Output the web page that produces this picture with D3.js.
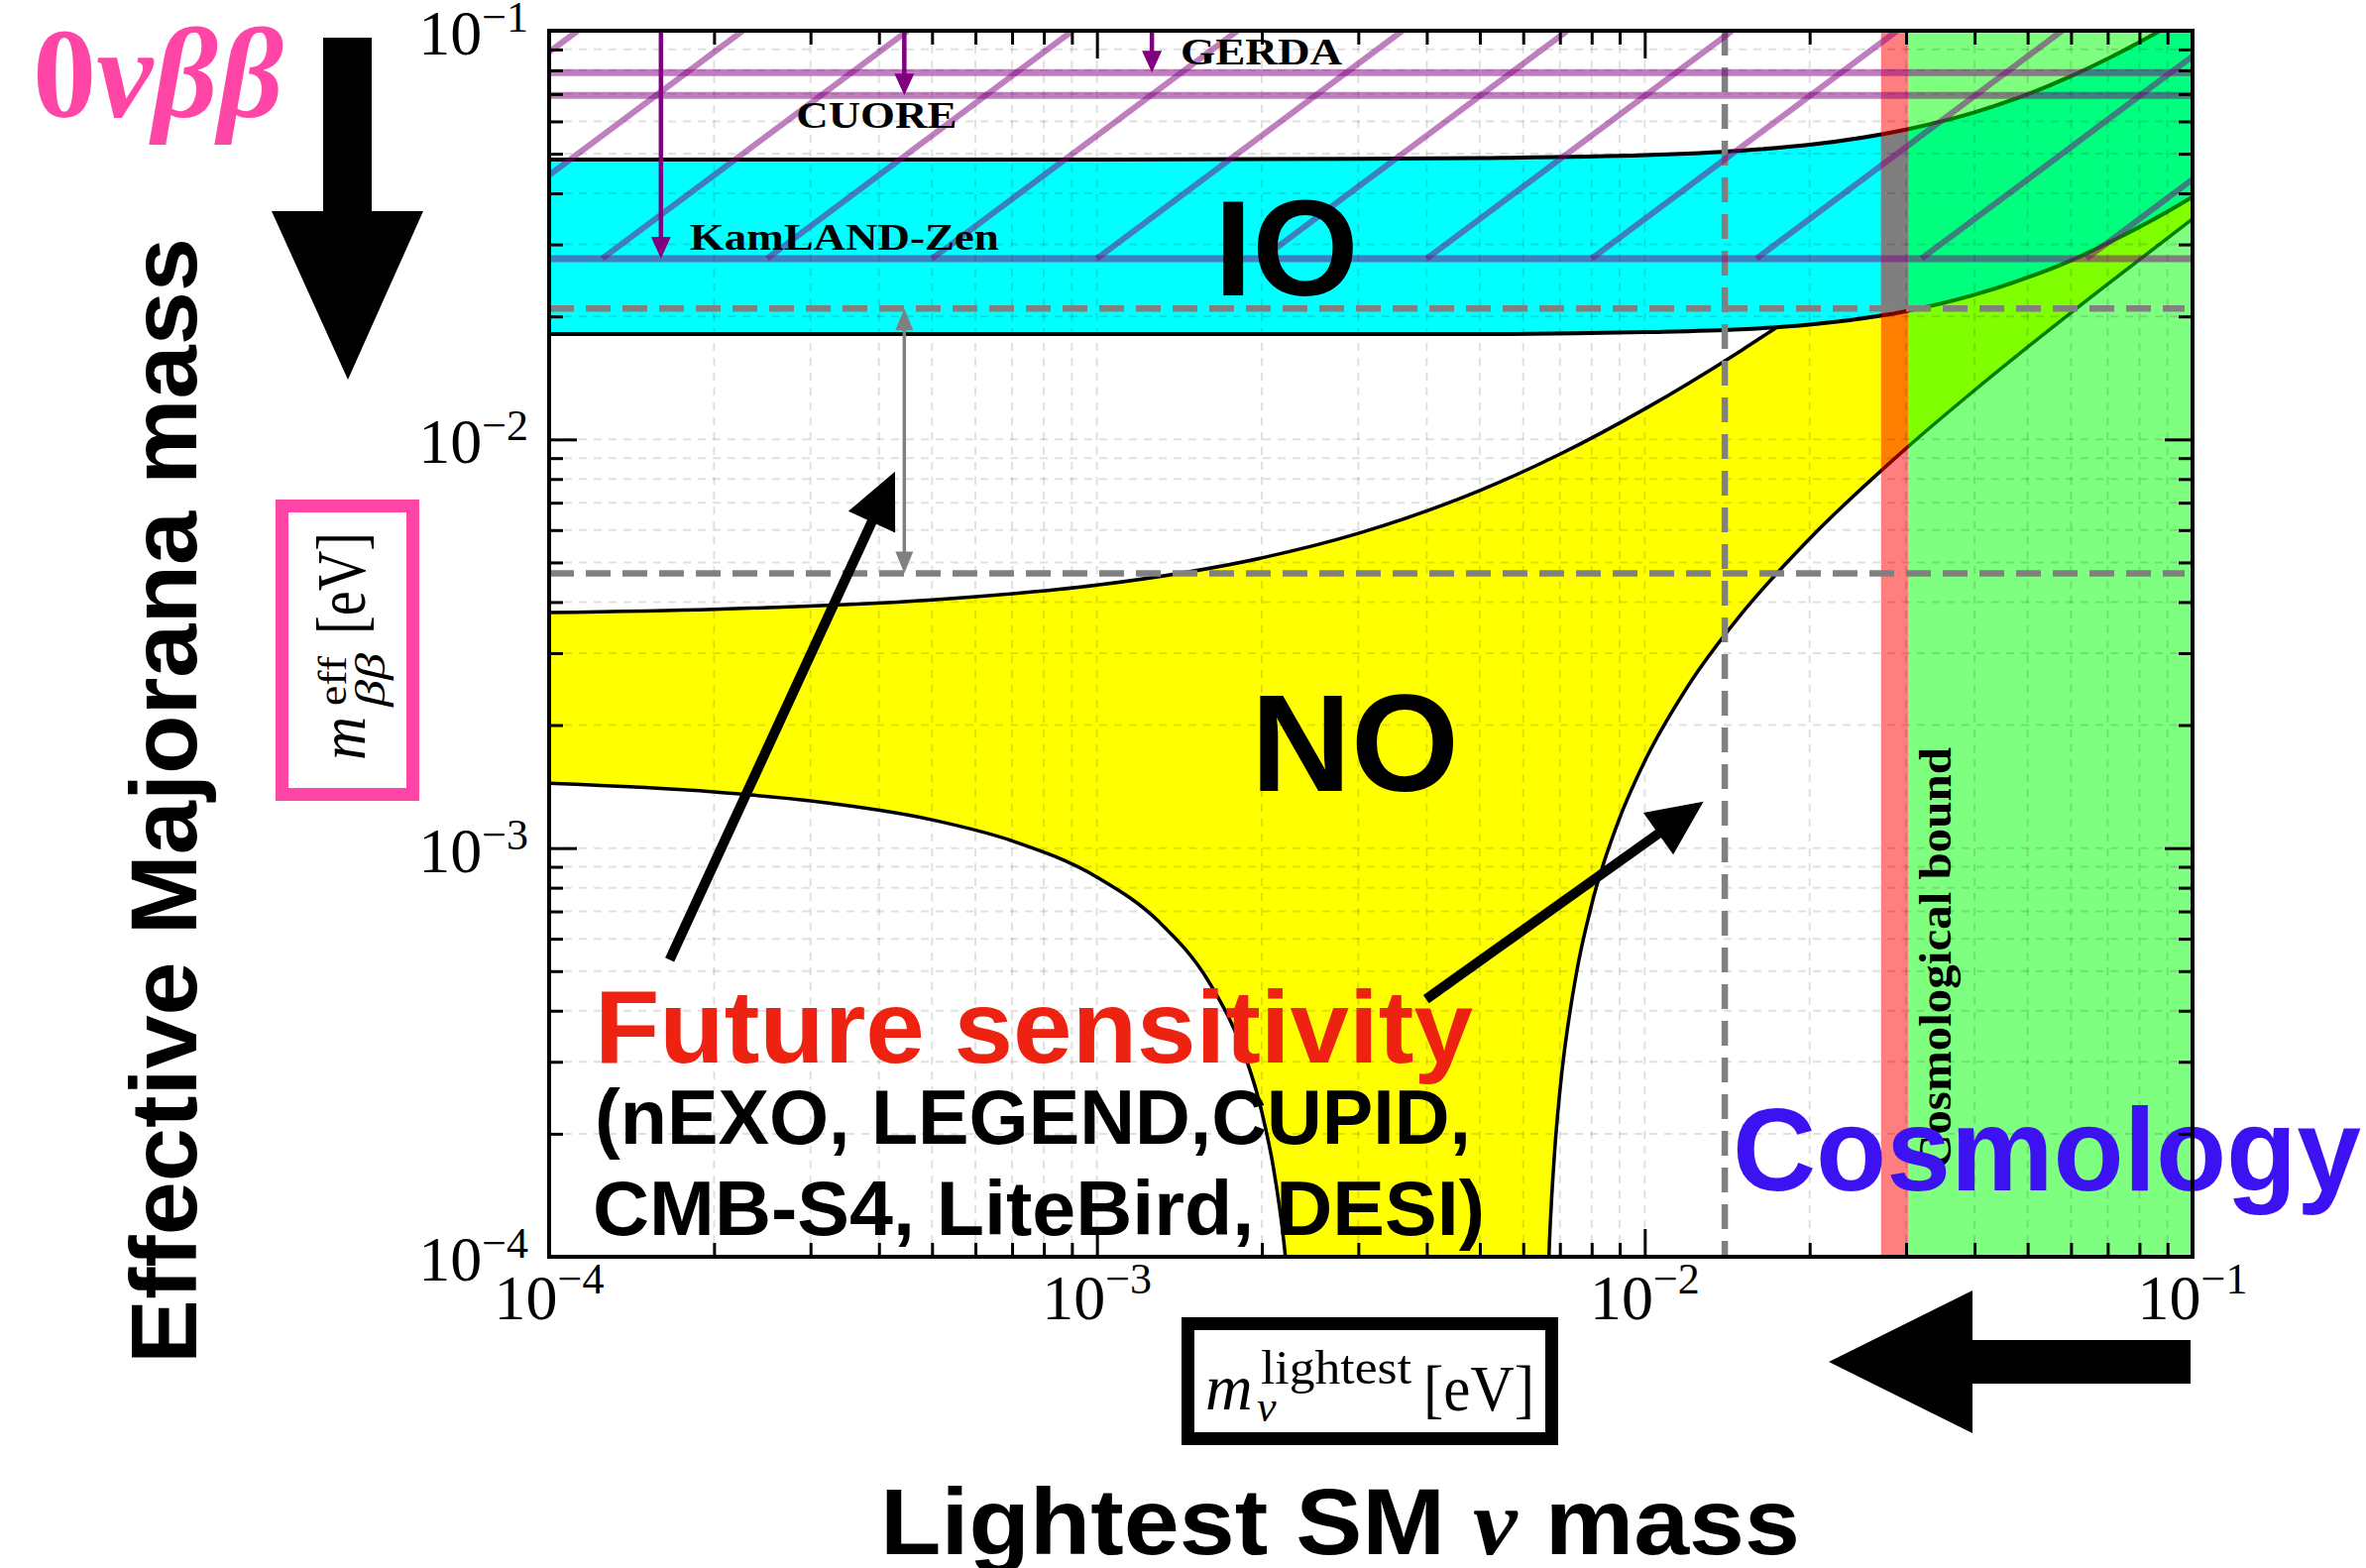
<!DOCTYPE html>
<html>
<head>
<meta charset="utf-8">
<script src="https://cdn.jsdelivr.net/npm/d3@7"></script>
<style>
  html, body { margin: 0; padding: 0; background: #fff; }
  svg { display: block; }
</style>
</head>
<body>
<div id="chart"></div>
<script>
// ---- values (eV) ----
const xDomain = [1e-4, 1e-1];
const yDomain = [1e-4, 1e-1];
const tickPowers = [-4, -3, -2, -1];
const tickExps = ["\u22124", "\u22123", "\u22122", "\u22121"];

// inverted ordering band
const ioX     = [1e-4, 3e-4, 1e-3, 3e-3, 5e-3, 1e-2, 1.5e-2, 2e-2, 3e-2, 4e-2, 5e-2, 6e-2, 7e-2, 8e-2, 9e-2, 1e-1];
const ioUpper = [0.0484, 0.0484, 0.0484, 0.0486, 0.0488, 0.0496, 0.0509, 0.0526, 0.0573, 0.0631, 0.0699, 0.0774, 0.0854, 0.0938, 0.1024, 0.1113];
const ioLower = [0.0181, 0.0181, 0.0181, 0.0181, 0.0181, 0.0183, 0.0186, 0.0191, 0.0206, 0.0226, 0.0249, 0.0274, 0.0302, 0.0331, 0.0361, 0.0392];

// normal ordering band
const noUpX = [1e-4, 2e-4, 5e-4, 1e-3, 2e-3, 3e-3, 5e-3, 7e-3, 1e-2, 1.5e-2, 2e-2, 3e-2, 5e-2, 7e-2, 1e-1];
const noUp  = [0.00377, 0.00384, 0.00405, 0.0044, 0.00513, 0.00589, 0.0075, 0.0092, 0.01187, 0.0165, 0.0213, 0.031, 0.0507, 0.0705, 0.1006];
const noLowLeftX = [1e-4, 2e-4, 3e-4, 5e-4, 7e-4, 1e-3, 1.3e-3, 1.6e-3, 1.8e-3, 2e-3, 2.1e-3, 2.2e-3, 2.25e-3, 2.3e-3];
const noLowLeft  = [1.44e-3, 1.372e-3, 1.305e-3, 1.173e-3, 1.042e-3, 8.49e-4, 6.59e-4, 4.71e-4, 3.48e-4, 2.26e-4, 1.65e-4, 1.05e-4, 7.5e-5, 4.55e-5];
const noLowRightX = [6.6e-3, 6.7e-3, 6.85e-3, 7e-3, 7.5e-3, 8e-3, 9e-3, 1e-2, 1.2e-2, 1.5e-2, 2e-2, 3e-2, 4e-2, 5e-2, 7e-2, 1e-1];
const noLowRight  = [6.1e-5, 1.085e-4, 1.82e-4, 2.54e-4, 4.92e-4, 7.27e-4, 1.185e-3, 1.631e-3, 2.495e-3, 3.737e-3, 5.715e-3, 9.507e-3, 0.01319, 0.01682, 0.02399, 0.03463];

// present 0vbb limits
const limitNames  = ["KamLAND-Zen", "CUORE", "GERDA"];
const limitValues = [0.0277, 0.0695, 0.079];
const limitArrowX = [1.6e-4, 4.45e-4, 1.26e-3];
const limitLabelDx = [29, -109, 29];
const limitLabelW  = [312, 162, 163];

// hatching of excluded region, start points on the KamLAND-Zen line
const hatchStartX = [3.125e-5, 6.25e-5, 1.25e-4, 2.5e-4, 5e-4, 1e-3, 2e-3, 4e-3, 8e-3, 1.6e-2, 3.2e-2, 6.4e-2];

// future sensitivity
const futureMbb = [0.0209, 0.0047];
const futureMlight = 0.014;
const futureArrowX = 4.45e-4;

// cosmology
const cosmoBand = [0.027, 0.0303];
const cosmoExcluded = [0.0303, 0.1];

// annotation arrows (tail, tip)
const pointerArrows = [
  [[1.66e-4, 5.33e-4], [4.28e-4, 8.34e-3]],
  [[3.99e-3, 4.27e-4], [1.28e-2, 1.30e-3]]
];

// ---- layout ----
const W = 2387, H = 1582;
const M = {left: 554, right: 2212, top: 31, bottom: 1268};
const pink = "#ff45a6";

const svg = d3.select("#chart").append("svg")
  .attr("width", W).attr("height", H)
  .style("font-family", "'Liberation Sans', Arial, sans-serif");
svg.append("rect").attr("width", W).attr("height", H).attr("fill", "#fff");

const x = d3.scaleLog().domain(xDomain).range([M.left, M.right]);
const y = d3.scaleLog().domain(yDomain).range([M.bottom, M.top]);

svg.append("defs").append("clipPath").attr("id", "plot-clip")
  .append("rect")
  .attr("x", M.left).attr("y", M.top)
  .attr("width", M.right - M.left).attr("height", M.bottom - M.top);

const plot = svg.append("g").attr("clip-path", "url(#plot-clip)");

const pts = (xs, ys) => xs.map((v, i) => [v, ys[i]]);
const curve = d3.line().x(d => x(d[0])).y(d => y(d[1])).curve(d3.curveMonotoneX);
const under = d3.area().x(d => x(d[0])).y0(H + 600).y1(d => y(d[1])).curve(d3.curveMonotoneX);
const band = d3.area().x(d => x(d[0])).y0(d => y(d[2])).y1(d => y(d[1])).curve(d3.curveMonotoneX);

// NO region
const noUpPts = pts(noUpX, noUp);
const noLeftPts = pts(noLowLeftX, noLowLeft);
const noRightPts = pts(noLowRightX, noLowRight);
plot.append("path").datum(noUpPts).attr("d", under).attr("fill", "#ffff00");
plot.append("path").datum(noLeftPts).attr("d", under).attr("fill", "#fff");
plot.append("path").datum(noRightPts).attr("d", under).attr("fill", "#fff");
[noUpPts, noLeftPts, noRightPts].forEach(p => {
  plot.append("path").datum(p).attr("d", curve)
    .attr("fill", "none").attr("stroke", "#000").attr("stroke-width", 3.5);
});

// IO region
const ioPts = ioX.map((v, i) => [v, ioUpper[i], ioLower[i]]);
plot.append("path").datum(ioPts).attr("d", band).attr("fill", "#00ffff");
[pts(ioX, ioUpper), pts(ioX, ioLower)].forEach(p => {
  plot.append("path").datum(p).attr("d", curve)
    .attr("fill", "none").attr("stroke", "#000").attr("stroke-width", 4);
});

// cosmological bound
plot.append("rect")
  .attr("x", x(cosmoBand[0])).attr("y", M.top)
  .attr("width", x(cosmoBand[1]) - x(cosmoBand[0])).attr("height", M.bottom - M.top)
  .attr("fill", "rgba(255,0,0,0.5)");
plot.append("rect")
  .attr("x", x(cosmoExcluded[0])).attr("y", M.top)
  .attr("width", x(cosmoExcluded[1]) - x(cosmoExcluded[0])).attr("height", M.bottom - M.top)
  .attr("fill", "rgba(0,255,0,0.5)");

// grid
const allTicks = x.ticks();
const grid = plot.append("g")
  .attr("stroke", "rgba(0,0,0,0.12)").attr("stroke-width", 2).attr("stroke-dasharray", "8,7");
allTicks.forEach(t => {
  grid.append("line").attr("x1", x(t)).attr("x2", x(t)).attr("y1", M.top).attr("y2", M.bottom);
  grid.append("line").attr("y1", y(t)).attr("y2", y(t)).attr("x1", M.left).attr("x2", M.right);
});

// future sensitivity dashed lines
futureMbb.forEach(v => {
  plot.append("line")
    .attr("x1", M.left).attr("x2", M.right - 8).attr("y1", y(v)).attr("y2", y(v))
    .attr("stroke", "#808080").attr("stroke-width", 6.5).attr("stroke-dasharray", "25,12");
});
plot.append("line")
  .attr("x1", x(futureMlight)).attr("x2", x(futureMlight)).attr("y1", M.top).attr("y2", M.bottom)
  .attr("stroke", "#808080").attr("stroke-width", 6.5).attr("stroke-dasharray", "25,12");

// hatching above the KamLAND-Zen bound
const kam = limitValues[0];
hatchStartX.forEach(x0 => {
  const x1 = x0 * (yDomain[1] / kam);
  plot.append("line")
    .attr("x1", x(x0)).attr("y1", y(kam)).attr("x2", x(x1)).attr("y2", y(yDomain[1]))
    .attr("stroke", "rgba(128,0,128,0.5)").attr("stroke-width", 6);
});
limitValues.forEach(v => {
  plot.append("line")
    .attr("x1", M.left).attr("x2", M.right).attr("y1", y(v)).attr("y2", y(v))
    .attr("stroke", "rgba(128,0,128,0.5)").attr("stroke-width", 7);
});

function arrow(g, x1, y1, x2, y2, color, width, headLen, headHalf) {
  const dx = x2 - x1, dy = y2 - y1, len = Math.hypot(dx, dy);
  const ux = dx / len, uy = dy / len;
  const bx = x2 - ux * headLen, by = y2 - uy * headLen;
  g.append("line").attr("x1", x1).attr("y1", y1).attr("x2", bx + ux * 2).attr("y2", by + uy * 2)
    .attr("stroke", color).attr("stroke-width", width);
  g.append("polygon")
    .attr("points", [[x2, y2], [bx - uy * headHalf, by + ux * headHalf], [bx + uy * headHalf, by - ux * headHalf]].map(p => p.join(",")).join(" "))
    .attr("fill", color);
}

// limit arrows + labels
limitValues.forEach((v, i) => {
  arrow(plot, x(limitArrowX[i]), M.top, x(limitArrowX[i]), y(v), "#800080", 4.5, 22, 10);
});
const limLab = svg.append("g").style("font-family", "'Liberation Serif', serif").attr("font-weight", "bold");
const limBase = [252, 129, 65];
limitNames.forEach((n, i) => {
  limLab.append("text")
    .attr("x", x(limitArrowX[i]) + limitLabelDx[i]).attr("y", limBase[i])
    .attr("font-size", 37).attr("textLength", limitLabelW[i]).attr("lengthAdjust", "spacingAndGlyphs")
    .text(n);
});

// gray double arrow between future lines
{
  const ax = x(futureArrowX), yt = y(futureMbb[0]), yb = y(futureMbb[1]);
  const mid = (yt + yb) / 2;
  arrow(plot, ax, mid, ax, yt, "#808080", 3.5, 22, 9);
  arrow(plot, ax, mid, ax, yb, "#808080", 3.5, 22, 9);
}

// region labels
svg.append("text").attr("x", 1225).attr("y", 298).attr("font-size", 138).attr("font-weight", "bold").text("IO");
svg.append("text").attr("x", 1262).attr("y", 798).attr("font-size", 140).attr("font-weight", "bold").text("NO");

// cosmological bound text
svg.append("text")
  .attr("transform", "translate(1968,1180) rotate(-90)")
  .style("font-family", "'Liberation Serif', serif").attr("font-weight", "bold")
  .attr("font-size", 46).attr("fill", "#000")
  .attr("textLength", 426).attr("lengthAdjust", "spacingAndGlyphs")
  .text("Cosmological bound");

// future sensitivity text
svg.append("text").attr("x", 600).attr("y", 1072).attr("font-size", 104).attr("font-weight", "bold")
  .attr("fill", "#ee2211").attr("textLength", 886).attr("lengthAdjust", "spacingAndGlyphs")
  .text("Future sensitivity");
svg.append("text").attr("x", 600).attr("y", 1154).attr("font-size", 78).attr("font-weight", "bold")
  .attr("textLength", 884).attr("lengthAdjust", "spacingAndGlyphs")
  .text("(nEXO, LEGEND,CUPID,");
svg.append("text").attr("x", 598).attr("y", 1246).attr("font-size", 78).attr("font-weight", "bold")
  .attr("textLength", 900).attr("lengthAdjust", "spacingAndGlyphs")
  .text("CMB-S4, LiteBird, DESI)");

// pointer arrows
pointerArrows.forEach(a => {
  arrow(svg, x(a[0][0]), y(a[0][1]), x(a[1][0]), y(a[1][1]), "#000", 10, 56, 26);
});

// Cosmology
svg.append("text").attr("x", 1748).attr("y", 1201).attr("font-size", 119).attr("font-weight", "bold")
  .attr("fill", "#3c12f2").attr("textLength", 634).attr("lengthAdjust", "spacingAndGlyphs")
  .text("Cosmology");

// axes: ticks inward on all sides
const majorTicks = allTicks.filter(t => Math.abs(Math.log10(t) - Math.round(Math.log10(t))) < 1e-6);
const minorTicks = allTicks.filter(t => !majorTicks.includes(t));
function ticks(axisFn, scale, transform) {
  [[majorTicks, 28], [minorTicks, 14]].forEach(([vals, len]) => {
    const g = svg.append("g").attr("transform", transform)
      .call(axisFn(scale).tickValues(vals).tickSize(-len).tickFormat(""));
    g.select(".domain").remove();
    g.selectAll(".tick line").attr("stroke", "#000").attr("stroke-width", 3);
  });
}
ticks(d3.axisBottom, x, `translate(0,${M.bottom})`);
ticks(d3.axisTop, x, `translate(0,${M.top})`);
ticks(d3.axisLeft, y, `translate(${M.left},0)`);
ticks(d3.axisRight, y, `translate(${M.right},0)`);

svg.append("rect")
  .attr("x", M.left).attr("y", M.top)
  .attr("width", M.right - M.left).attr("height", M.bottom - M.top)
  .attr("fill", "none").attr("stroke", "#000").attr("stroke-width", 4);

// tick labels
const lab = svg.append("g").style("font-family", "'Liberation Serif', serif");
tickPowers.forEach((p, i) => {
  const v = Math.pow(10, p);
  const ty = lab.append("text").attr("x", 533).attr("y", y(v) + 24).attr("text-anchor", "end");
  ty.append("tspan").attr("font-size", 64).text("10");
  ty.append("tspan").attr("font-size", 44).attr("dy", -23).text(tickExps[i]);
  const tx = lab.append("text").attr("x", x(v)).attr("y", M.bottom + 63).attr("text-anchor", "middle");
  tx.append("tspan").attr("font-size", 64).text("10");
  tx.append("tspan").attr("font-size", 44).attr("dy", -26).text(tickExps[i]);
});

// 0vbb title
const t0 = svg.append("text").attr("x", 33).attr("y", 118).attr("fill", pink)
  .style("font-family", "'Liberation Serif', serif").attr("font-weight", "bold").attr("font-size", 130)
  .attr("textLength", 253).attr("lengthAdjust", "spacingAndGlyphs");
t0.append("tspan").text("0");
t0.append("tspan").attr("font-style", "italic").text("\u03bd\u03b2\u03b2");

// big down arrow
svg.append("polygon")
  .attr("points", "326,38 375,38 375,213 427,213 351,383 274,213 326,213")
  .attr("fill", "#000");

// y axis title
svg.append("text")
  .attr("transform", "translate(198,1376) rotate(-90)")
  .attr("font-size", 95).attr("font-weight", "bold")
  .attr("textLength", 1136).attr("lengthAdjust", "spacingAndGlyphs")
  .text("Effective Majorana mass");

// pink box with m_bb^eff [eV]
svg.append("rect").attr("x", 284.5).attr("y", 510.5).attr("width", 132).attr("height", 291)
  .attr("fill", "#fff").attr("stroke", pink).attr("stroke-width", 13);
const yl = svg.append("g").attr("transform", "translate(368,767) rotate(-90)")
  .style("font-family", "'Liberation Serif', serif");
yl.append("text").attr("x", 0).attr("y", 0).attr("font-size", 66).attr("font-style", "italic")
  .attr("textLength", 44).attr("lengthAdjust", "spacingAndGlyphs").text("m");
yl.append("text").attr("x", 55).attr("y", -19).attr("font-size", 40)
  .attr("textLength", 50).attr("lengthAdjust", "spacingAndGlyphs").text("eff");
yl.append("text").attr("x", 54).attr("y", 20).attr("font-size", 42).attr("font-style", "italic")
  .attr("textLength", 54).attr("lengthAdjust", "spacingAndGlyphs").text("\u03b2\u03b2");
yl.append("text").attr("x", 127).attr("y", 0).attr("font-size", 70)
  .attr("textLength", 103).attr("lengthAdjust", "spacingAndGlyphs").text("[eV]");

// black box with m_nu^lightest [eV]
svg.append("rect").attr("x", 1198.5).attr("y", 1335.5).attr("width", 367).attr("height", 116)
  .attr("fill", "#fff").attr("stroke", "#000").attr("stroke-width", 13);
const xl = svg.append("g").style("font-family", "'Liberation Serif', serif");
xl.append("text").attr("x", 1216).attr("y", 1422).attr("font-size", 66).attr("font-style", "italic").text("m");
xl.append("text").attr("x", 1272).attr("y", 1396).attr("font-size", 48)
  .attr("textLength", 152).attr("lengthAdjust", "spacingAndGlyphs").text("lightest");
xl.append("text").attr("x", 1268).attr("y", 1434).attr("font-size", 44).attr("font-style", "italic").text("\u03bd");
xl.append("text").attr("x", 1436).attr("y", 1423).attr("font-size", 66)
  .attr("textLength", 112).attr("lengthAdjust", "spacingAndGlyphs").text("[eV]");

// left arrow
svg.append("polygon")
  .attr("points", "2210,1352 2210,1396 1990,1396 1990,1446 1845,1374 1990,1302 1990,1352")
  .attr("fill", "#000");

// x axis title
const xt = svg.append("text").attr("x", 888).attr("y", 1568).attr("font-size", 95).attr("font-weight", "bold")
  .attr("textLength", 928).attr("lengthAdjust", "spacingAndGlyphs");
xt.append("tspan").text("Lightest SM ");
xt.append("tspan").style("font-family", "'Liberation Serif', serif").attr("font-style", "italic").text("\u03bd");
xt.append("tspan").text(" mass");
</script>
</body>
</html>
